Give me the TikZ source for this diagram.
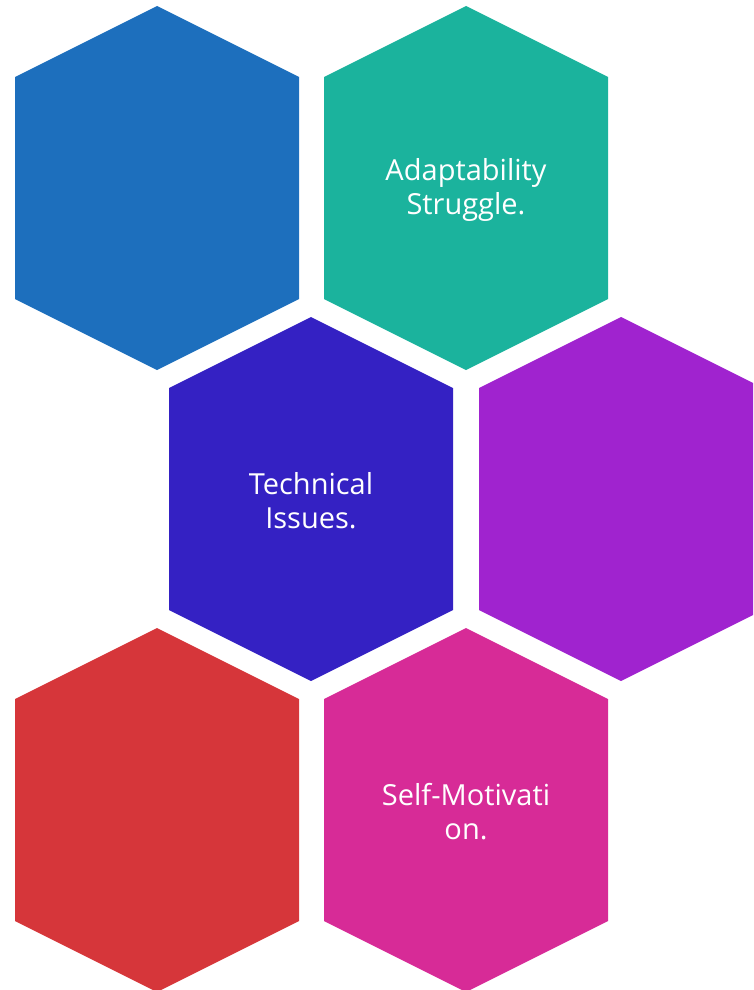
\documentclass[tikz,border=0pt]{standalone}
\usepackage{fontspec}
\setmainfont{Open Sans}
\usetikzlibrary{calc}

\definecolor{hexblue}{HTML}{1D6FBD}
\definecolor{hexteal}{HTML}{1BB39D}
\definecolor{hexindigo}{HTML}{3421C3}
\definecolor{hexpurple}{HTML}{A023CF}
\definecolor{hexred}{HTML}{D6363A}
\definecolor{hexpink}{HTML}{D72B97}

\begin{document}
\begin{tikzpicture}[x=1pt,y=-1pt,
  hex/.pic={\fill (0,-182)--(142,-111)--(142,111)--(0,182)--(-142,111)--(-142,-111)--cycle;},
  label/.style={text=white,align=center,font=\fontsize{29}{34}\selectfont}]
\useasboundingbox (0,0) rectangle (753,990);
\clip (0,0) rectangle (753,990);
% top row
\pic[hexblue] at (157,188) {hex};
\pic[hexteal] at (466,188) {hex};
% middle row
\pic[hexindigo] at (311,499) {hex};
\pic[hexpurple] at (621,499) {hex};
% bottom row
\pic[hexred] at (157,810) {hex};
\pic[hexpink] at (466,810) {hex};
\node[label] (adapt) at (466,190) {Adaptability\\Struggle.};
\node[label] (tech) at (311,501) {Technical\\Issues.};
\node[label] (self) at (466,812) {Self-Motivati\\on.};
\end{tikzpicture}
\end{document}
